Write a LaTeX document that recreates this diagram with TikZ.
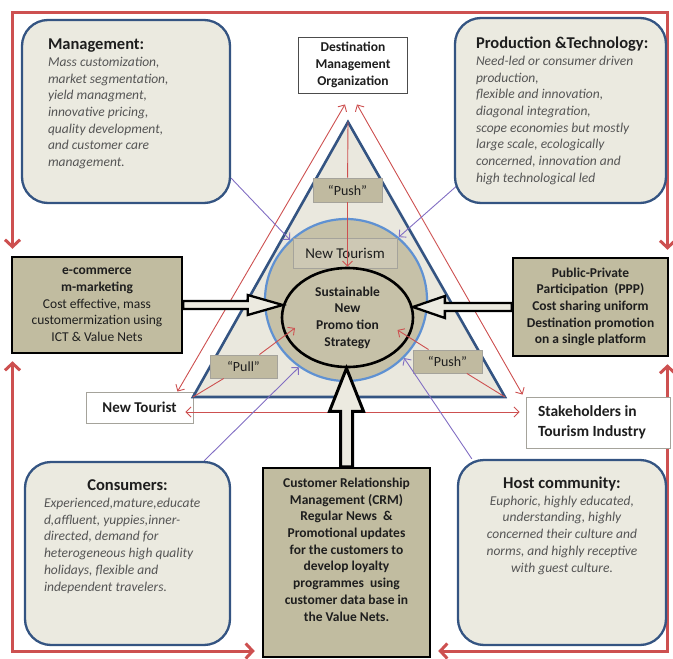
\documentclass[tikz,border=0pt]{standalone}
\usepackage{fontspec}
\setmainfont{Carlito}
\usetikzlibrary{arrows.meta,calc,shapes.geometric}
\definecolor{redln}{RGB}{205,80,80}
\definecolor{dkblue}{RGB}{52,84,130}
\definecolor{ltblue}{RGB}{95,145,210}
\definecolor{boxbg}{RGB}{235,234,224}
\definecolor{trifill}{RGB}{234,232,222}
\definecolor{taupe}{RGB}{193,188,160}
\definecolor{circfill}{RGB}{198,193,168}
\definecolor{ntmfill}{RGB}{205,200,180}
\definecolor{tagfill}{RGB}{192,186,160}
\definecolor{taggray}{RGB}{165,163,155}
\definecolor{arrowfill}{RGB}{236,234,224}
\definecolor{purpln}{RGB}{130,110,195}
\definecolor{txtdark}{RGB}{30,30,30}
\definecolor{txtgray}{RGB}{85,85,85}
\newcommand{\ttlfont}{\bfseries\color{txtdark}\fontsize{16.5}{19}\selectfont}
\newcommand{\bdyfont}{\itshape\color{txtgray}\fontsize{13.5}{16.7}\selectfont}
\pgfdeclarelayer{bg}
\pgfdeclarelayer{front}
\pgfsetlayers{bg,main,front}
\tikzset{
  roundbox/.style={draw=dkblue, line width=2.3pt, fill=boxbg, rounded corners=26pt, inner sep=0pt},
  plainbox/.style={draw=taggray, line width=0.9pt, fill=white, inner sep=0pt, text=txtdark,
    font=\bfseries\fontsize{13.5}{16.7}\selectfont},
  blackbox/.style={draw=black, line width=2.5pt, fill=taupe, inner sep=0pt, text=txtdark,
    align=center, font=\fontsize{13.5}{16.7}\selectfont},
  tagbox/.style={draw=taggray, line width=0.9pt, fill=tagfill, inner sep=0pt, text=txtdark,
    font=\fontsize{14}{16}\selectfont},
  thinred/.style={draw=redln, line width=0.9pt, >={Straight Barb[length=5pt,width=10pt]}},
  redloop/.style={draw=redln, line width=3pt, >={Straight Barb[length=7pt,width=15pt]}},
  purp/.style={draw=purpln, line width=0.9pt, -{Straight Barb[length=5pt,width=10pt]}},
  blockarrow/.style={draw=black, line width=2.3pt, fill=arrowfill, line join=miter},
}
\begin{document}
\begin{tikzpicture}[x=1pt,y=-1pt]
\useasboundingbox (0,0) rectangle (673,659);

% ---------- rounded boxes (front layer) ----------
\begin{pgfonlayer}{front}
\node[roundbox] (mgmt) at (126,111.5) {\parbox[c][183pt][t]{208pt}{\raggedright\leftskip=26pt\relax
  \vspace*{19pt}\leavevmode{\ttlfont Management:}\par
  \leavevmode\bdyfont Mass customization,\\ market segmentation,\\ yield managment,\\ innovative pricing,\\ quality development,\\ and customer care\\ management.\par}};
\node[roundbox] (prod) at (560.5,110.5) {\parbox[c][185pt][t]{211pt}{\raggedright\leftskip=21pt\relax
  \vspace*{19pt}\leavevmode{\ttlfont Production \&Technology:}\par
  \leavevmode\bdyfont Need-led or consumer driven\\ production,\\ flexible and innovation,\\ diagonal integration,\\ scope economies but mostly\\ large scale, ecologically\\ concerned, innovation and\\ high technological led\par}};
\node[roundbox] (cons) at (127.5,553.5) {\parbox[c][183pt][t]{205pt}{%
  \vspace*{18pt}{\centering\leavevmode\ttlfont Consumers:\par}
  \raggedright\leftskip=19pt\relax
  \leavevmode\bdyfont Experienced,mature,educate\\ d,affluent, yuppies,inner-\\ directed, demand for\\ heterogeneous high quality\\ holidays, flexible and\\ independent travelers.\par}};
\node[roundbox] (host) at (562,552.5) {\parbox[c][185pt][t]{208pt}{\centering
  \vspace*{17pt}\leavevmode{\ttlfont Host community:}\par
  \leavevmode\bdyfont Euphoric, highly educated,\\ understanding, highly\\ concerned their culture and\\ norms, and highly receptive\\ with guest culture.\par}};
\end{pgfonlayer}

% ---------- plain boxes ----------
\node[plainbox, draw=black!70, minimum width=109pt, minimum height=56pt, align=center] (dmo) at (353,65)
  {Destination\\ Management\\ Organization};
\node[plainbox, minimum width=107pt, minimum height=31pt, font=\bfseries\fontsize{15}{18}\selectfont] (nt) at (139.5,407.5) {New Tourist};
\node[plainbox, minimum width=144pt, minimum height=51pt, font=\bfseries\fontsize{15.5}{20}\selectfont] (sh) at (598,422.5)
  {\parbox{120pt}{\raggedright Stakeholders in\\ Tourism Industry}};

% ---------- black boxes ----------
\node[blackbox, minimum width=170pt, minimum height=96pt] (ecom) at (97,305)
  {\textbf{e-commerce}\\ \textbf{m-marketing}\\ Cost effective, mass\\ customermization using\\ ICT \& Value Nets};
\node[blackbox, minimum width=155pt, minimum height=98pt, font=\bfseries\fontsize{13.5}{16.7}\selectfont] (ppp) at (590.5,307)
  {Public-Private\\ Participation\ \ (PPP)\\ Cost sharing uniform\\ Destination promotion\\ on a single platform};
\node[blackbox] (crm) at (346.5,562.5) {\parbox[c][189pt][t]{167pt}{\centering
  \vspace*{10pt}\leavevmode\bfseries\fontsize{13.5}{16.7}\selectfont Customer Relationship\\ Management (CRM)\\ Regular News\ \ \&\\ Promotional updates\\ for the customers to\\ develop loyalty\\ programmes\ \ using\\ customer data base in\\ the Value Nets.\par}};

% ---------- triangle ----------
\coordinate (A) at (348,122);
\coordinate (B) at (193,397);
\coordinate (C) at (505,397);
\draw[line width=2.6pt, draw=dkblue, fill=trifill, line join=miter] (A) -- (B) -- (C) -- cycle;

% red double arrows between outer boxes
\draw[thinred,<->] ($(dmo.south)+(-8,11)$) -- ($(nt.north east)+(-16,0)$);
\draw[thinred,<->] ($(dmo.south)+(4,11)$) -- ($(sh.north west)+(-3,-2)$);
\draw[thinred,<->] ($(nt.east)+(-8,4.5)$) -- ($(sh.west)+(-6,-10.5)$);

% ---------- circle, New Tourism, ellipse ----------
\node[circle, draw=ltblue, line width=2.2pt, fill=circfill, minimum size=162pt, inner sep=0pt] (circ) at (346,300) {};
\node[draw=taggray, line width=0.9pt, fill=ntmfill, minimum width=104pt, minimum height=30pt, inner sep=0pt,
  text=txtdark, font=\fontsize{15}{18}\selectfont] (ntm) at (345,253) {New Tourism};
\node[ellipse, draw=black, line width=2.6pt, fill=circfill, minimum width=131pt, minimum height=99pt, inner sep=0pt,
  align=center, text=txtdark, font=\bfseries\fontsize{13.5}{16.7}\selectfont] (ell) at (347.5,317.5)
  {Sustainable\\ New\\ Promo tion\\ Strategy};

% ---------- push / pull tags ----------
\node[tagbox, minimum width=69pt, minimum height=24pt] (pushT) at (347.5,190) {``Push''};
\node[tagbox, minimum width=67pt, minimum height=23pt] (pull) at (243.5,366.5) {``Pull''};
\node[tagbox, minimum width=69pt, minimum height=23pt] (pushR) at (447.5,361.5) {``Push''};

\draw[thinred] (A) -- (pushT);
\draw[thinred,->] (pushT) -- (ell.north);
\draw[thinred] (B) -- (pull);
\draw[thinred,->] (pull) -- ($(ell.center)+(-52.5,10.5)$);
\draw[thinred] (C) -- (pushR);
\draw[thinred,->] (pushR) -- ($(ell.center)+(50,12.5)$);

% ---------- purple arrows ----------
\draw[purp] ($(mgmt.south east)+(0,-26)$) -- (circ.133);
\draw[purp] ($(prod.south west)+(6,-21)$) -- (circ.50);
\draw[purp] ($(cons.north east)+(-27,0)$) -- (circ.235);
\draw[purp] ($(host.north west)+(15,0)$) -- (circ.-45);

% ---------- block arrows ----------
\coordinate (Lt) at (ell.169 |- ecom.east);
\draw[blockarrow] ($(ecom.east)+(0,-4)$) -- ($(Lt)+(-35,-4)$) -- ($(Lt)+(-35,-10)$) -- (Lt)
  -- ($(Lt)+(-35,10)$) -- ($(Lt)+(-35,4)$) -- ($(ecom.east)+(0,4)$) -- cycle;
\coordinate (Rt) at (ell.9 |- ppp.west);
\draw[blockarrow] ($(ppp.west)+(0,-4)$) -- ($(Rt)+(32,-4)$) -- ($(Rt)+(32,-11)$) -- (Rt)
  -- ($(Rt)+(32,11)$) -- ($(Rt)+(32,4)$) -- ($(ppp.west)+(0,4)$) -- cycle;
\coordinate (Bt) at (crm.north |- ell.south);
\draw[blockarrow, line width=3pt] ($(crm.north)+(-6,0)$) -- ($(Bt)+(-6,43)$) -- ($(Bt)+(-17,43)$) -- (Bt)
  -- ($(Bt)+(17,43)$) -- ($(Bt)+(6,43)$) -- ($(crm.north)+(6,0)$) -- cycle;

% ---------- red outer loop (background) ----------
\coordinate (TL) at (12.5,12);
\coordinate (TR) at (667.5,12);
\coordinate (BL) at (12.5,651);
\coordinate (BR) at (667.5,651);
\begin{pgfonlayer}{bg}
\draw[redloop,<->] ($(TL |- ecom.north)+(0,-7)$) -- (TL) -- (TR) -- ($(TR |- ppp.north)+(0,-7)$);
\draw[redloop,<->] ($(BL |- ecom.south)+(0,7)$) -- (BL) -- ($(BL -| crm.west)+(-7,0)$);
\draw[redloop,<->] ($(BR |- ppp.south)+(0,7)$) -- (BR) -- ($(BR -| crm.east)+(7,0)$);
\end{pgfonlayer}
\end{tikzpicture}
\end{document}
